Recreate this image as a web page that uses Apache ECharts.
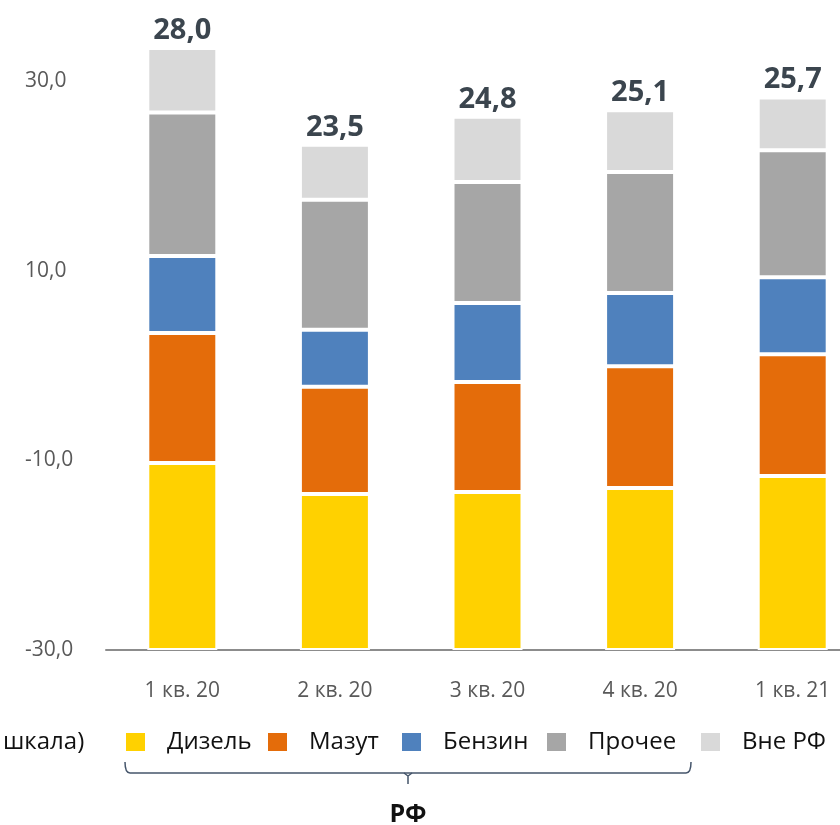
<!DOCTYPE html>
<html>
<head>
<meta charset="utf-8">
<script src="https://cdn.jsdelivr.net/npm/echarts@6/dist/echarts.min.js"></script>
<style>
  html, body { margin: 0; padding: 0; background: #fff; }
  #chart { width: 840px; height: 825px; }
</style>
</head>
<body>
<div id="chart"></div>
<script>
  // data
  var quarters = ['1 кв. 20', '2 кв. 20', '3 кв. 20', '4 кв. 20', '1 кв. 21'];
  var diesel  = [8.7, 7.26, 7.35, 7.53, 8.09];
  var mazut   = [6.05, 4.98, 5.12, 5.67, 5.67];
  var benzin  = [3.58, 2.65, 3.67, 3.40, 3.58];
  var other   = [6.67, 6.05, 5.63, 5.63, 5.91];
  var abroad  = [3.0, 2.56, 3.03, 2.87, 2.45];
  var totals  = [28.0, 23.5, 24.8, 25.1, 25.7];

  var font = '"Open Sans", "Noto Sans", sans-serif';
  var colors = ['#ffd100', '#e46c0a', '#4f81bd', '#a6a6a6', '#d9d9d9'];
  var names = ['Дизель', 'Мазут', 'Бензин', 'Прочее', 'Вне РФ'];
  var values = [diesel, mazut, benzin, other, abroad];
  var legendLeft = [124, 266, 400, 545, 699];

  function fmt(v) {
    return v.toFixed(1).replace('.', ',');
  }

  var series = values.map(function (arr, i) {
    var s = {
      name: names[i],
      type: 'bar',
      stack: 'total',
      yAxisIndex: 1,
      barWidth: 70,
      data: arr,
      itemStyle: { color: colors[i], borderColor: '#fff', borderWidth: 2 }
    };
    if (i === values.length - 1) {
      s.label = {
        show: true,
        position: 'top',
        distance: 3,
        formatter: function (p) { return fmt(totals[p.dataIndex]); },
        fontFamily: font,
        fontSize: 29,
        fontWeight: 'bold',
        color: '#3b454e'
      };
    }
    return s;
  });

  // one legend per item so each sits where the original has it
  var legends = names.map(function (n, i) {
    return {
      left: legendLeft[i],
      top: 730,
      padding: 0,
      itemWidth: 21,
      itemHeight: 20,
      icon: 'rect',
      data: [n],
      textStyle: { fontFamily: font, fontSize: 24, color: '#111', padding: [0, 0, 0, 16] }
    };
  });

  // bracket under the RF legend items
  var bracketStyle = { stroke: '#44546a', lineWidth: 1.5, fill: null };

  var chart = echarts.init(document.getElementById('chart'));
  chart.setOption({
    animation: false,
    color: colors,
    grid: { left: 106, right: -29, top: 5, bottom: 175, outerBoundsMode: 'none', containLabel: false },
    legend: legends,
    xAxis: {
      type: 'category',
      data: quarters,
      axisLine: { onZero: false, lineStyle: { color: '#8c8c8c', width: 2 } },
      axisTick: { show: false },
      axisLabel: { fontFamily: font, fontSize: 21, color: '#595959', margin: 31 }
    },
    yAxis: [{
      type: 'value',
      min: -30,
      max: 38,
      interval: 20,
      splitLine: { show: false },
      axisLine: { show: false },
      axisTick: { show: false },
      axisLabel: {
        showMaxLabel: false,
        align: 'left',
        margin: 81,
        fontFamily: font,
        fontSize: 21,
        color: '#595959',
        formatter: function (v) { return fmt(v); }
      }
    }, {
      type: 'value',
      min: 0,
      max: 30,
      show: false,
      splitLine: { show: false }
    }],
    graphic: [
      {
        type: 'text',
        x: 3,
        y: 742,
        style: {
          text: 'шкала)',
          align: 'left',
          verticalAlign: 'middle',
          font: '24px ' + font,
          fill: '#111'
        }
      },
      {
        type: 'bezierCurve',
        shape: { x1: 125, y1: 762, x2: 130, y2: 773, cpx1: 125, cpy1: 773 },
        style: bracketStyle
      },
      {
        type: 'line',
        shape: { x1: 130, y1: 773, x2: 686, y2: 773 },
        style: bracketStyle
      },
      {
        type: 'bezierCurve',
        shape: { x1: 686, y1: 773, x2: 691, y2: 762, cpx1: 691, cpy1: 773 },
        style: bracketStyle
      },
      {
        type: 'polyline',
        shape: { points: [[404, 773], [408, 776], [408, 784], [408, 776], [412, 773]] },
        style: bracketStyle
      },
      {
        type: 'text',
        x: 408,
        y: 815,
        style: {
          text: 'РФ',
          align: 'center',
          verticalAlign: 'middle',
          font: 'bold 25px ' + font,
          fill: '#111'
        }
      }
    ],
    series: series
  });
</script>
</body>
</html>
